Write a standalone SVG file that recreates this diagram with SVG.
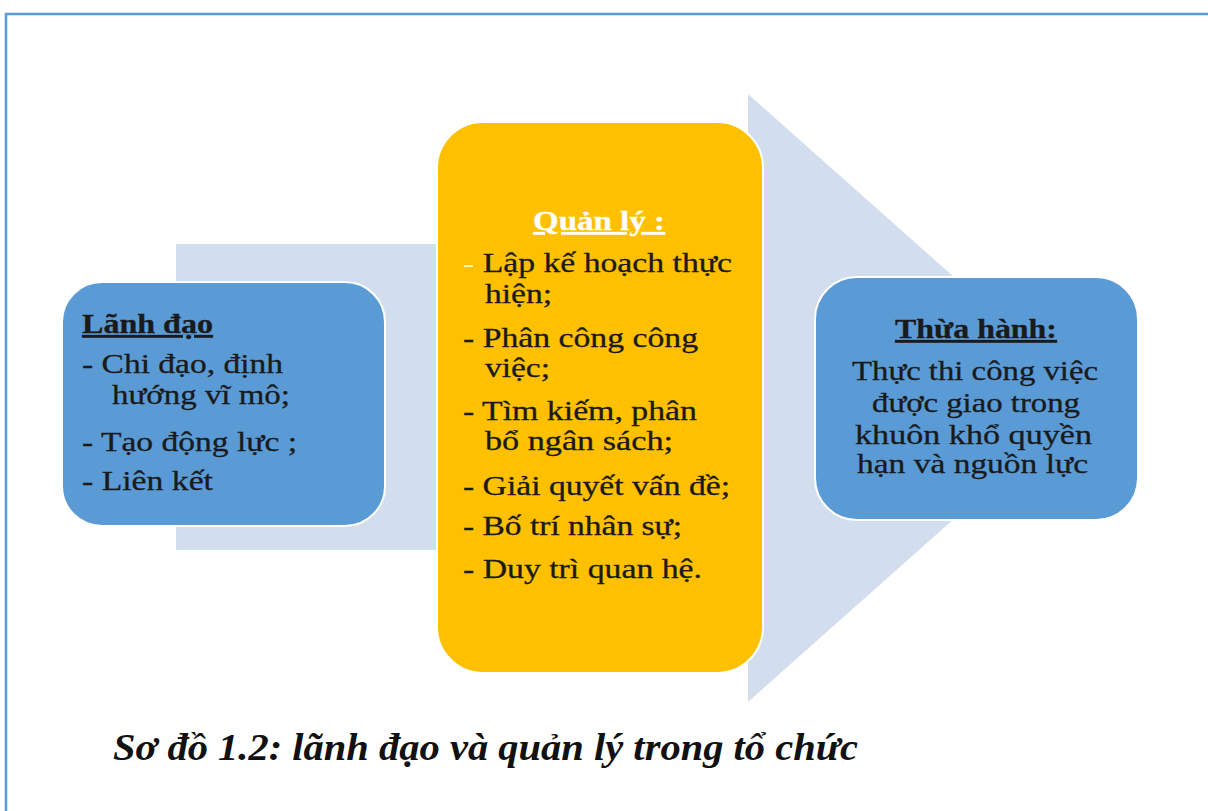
<svg xmlns="http://www.w3.org/2000/svg" width="1208" height="811" viewBox="0 0 1208 811">
<style>
.t{font-family:"Liberation Serif","Times New Roman",serif;font-size:27px;fill:#1a1a1a;stroke:#1a1a1a;stroke-width:0.3}
.h{font-weight:bold;text-decoration:underline}
.box{stroke:#ffffff;stroke-width:2}
</style>
<rect x="0" y="0" width="1208" height="811" fill="#ffffff"/>
<path d="M6 811 V14 H1208" fill="none" stroke="#5b9bd5" stroke-width="2.5"/>
<g id="connectors">
<path d="M176 244 H748 V94 L1090 398 L748 702 V550 H176 Z" fill="#d2ddee"/>
</g>
<g id="lanh-dao">
<rect class="box" x="62" y="282" width="323" height="244" rx="40" fill="#5b9bd5"/>
<text class="t h" x="82" y="333" textLength="131" lengthAdjust="spacingAndGlyphs">Lãnh  đạo</text>
<text class="t" x="82" y="373" textLength="201" lengthAdjust="spacingAndGlyphs">- Chi đạo, định</text>
<text class="t" x="112" y="404" textLength="178" lengthAdjust="spacingAndGlyphs">hướng vĩ mô;</text>
<text class="t" x="82" y="451" textLength="215" lengthAdjust="spacingAndGlyphs">- Tạo động lực ;</text>
<text class="t" x="82" y="490" textLength="131" lengthAdjust="spacingAndGlyphs">- Liên kết</text>
</g>
<g id="quan-ly">
<rect class="box" x="437" y="122" width="326" height="551" rx="46" fill="#ffc000"/>
<text class="t h" x="533" y="230" textLength="132" lengthAdjust="spacingAndGlyphs" style="fill:#ffffff;stroke:#ffffff">Quản  lý :</text>
<text class="t" x="463" y="272" textLength="269" lengthAdjust="spacingAndGlyphs"><tspan style="fill:#fff3c0;stroke:none">-</tspan> Lập kế hoạch thực</text>
<text class="t" x="485" y="303" textLength="67" lengthAdjust="spacingAndGlyphs">hiện;</text>
<text class="t" x="463" y="347" textLength="235" lengthAdjust="spacingAndGlyphs">- Phân công công</text>
<text class="t" x="485" y="377" textLength="65" lengthAdjust="spacingAndGlyphs">việc;</text>
<text class="t" x="463" y="420" textLength="234" lengthAdjust="spacingAndGlyphs">- Tìm kiếm,  phân</text>
<text class="t" x="485" y="450" textLength="188" lengthAdjust="spacingAndGlyphs">bổ ngân sách;</text>
<text class="t" x="463" y="495" textLength="267" lengthAdjust="spacingAndGlyphs">- Giải  quyết vấn đề;</text>
<text class="t" x="463" y="535" textLength="219" lengthAdjust="spacingAndGlyphs">- Bố trí nhân sự;</text>
<text class="t" x="463" y="578" textLength="239" lengthAdjust="spacingAndGlyphs">- Duy trì quan hệ.</text>
</g>
<g id="thua-hanh">
<rect class="box" x="815" y="277" width="323" height="243" rx="42" fill="#5b9bd5"/>
<text class="t h" x="895" y="338" textLength="162" lengthAdjust="spacingAndGlyphs">Thừa  hành:</text>
<text class="t" x="852" y="380" textLength="246" lengthAdjust="spacingAndGlyphs">Thực thi công việc</text>
<text class="t" x="872" y="412" textLength="208" lengthAdjust="spacingAndGlyphs">được giao trong</text>
<text class="t" x="855" y="444" textLength="237" lengthAdjust="spacingAndGlyphs">khuôn khổ quyền</text>
<text class="t" x="857" y="473" textLength="231" lengthAdjust="spacingAndGlyphs">hạn và nguồn lực</text>
</g>
<text x="113" y="760" font-family="'Liberation Serif','Times New Roman',serif" font-size="37" font-weight="bold" font-style="italic" fill="#111111" textLength="745" lengthAdjust="spacingAndGlyphs">Sơ đồ 1.2: lãnh đạo và quản lý trong tổ chức</text>
</svg>
